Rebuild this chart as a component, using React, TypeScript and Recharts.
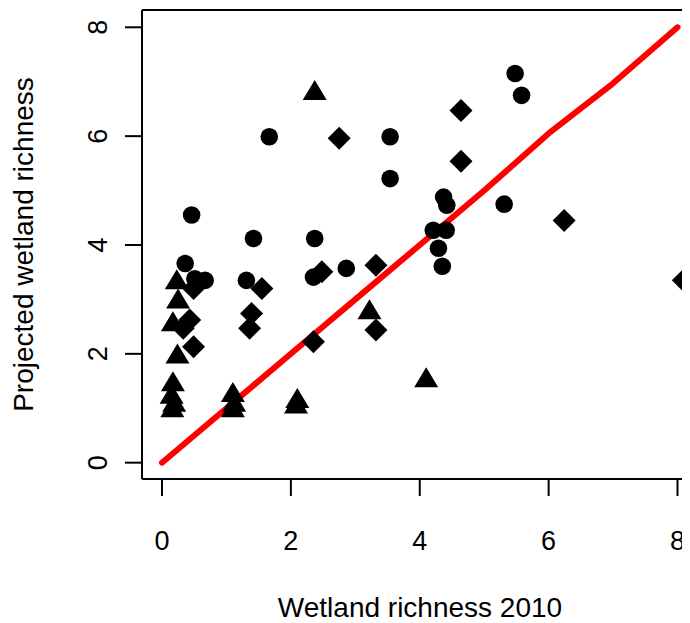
import React from 'react';
import { ComposedChart, Scatter, XAxis, YAxis, ReferenceLine } from 'recharts';

// Series
const circleX = [0.46, 0.36, 0.51, 0.67, 1.42, 1.31, 2.37, 2.35, 2.86, 1.665, 3.54, 3.54, 5.48, 5.58, 4.37, 4.42, 5.31, 4.21, 4.41, 4.29, 4.35];
const circleY = [4.55, 3.66, 3.38, 3.35, 4.12, 3.35, 4.12, 3.41, 3.57, 5.99, 5.99, 5.22, 7.15, 6.75, 4.88, 4.73, 4.75, 4.27, 4.27, 3.94, 3.61];

const diamondX = [0.49, 0.43, 0.33, 0.49, 1.55, 1.39, 1.36, 2.48, 2.35, 2.75, 4.64, 4.64, 6.24, 3.32, 3.32, 8.09];
const diamondY = [3.2, 2.62, 2.47, 2.13, 3.2, 2.74, 2.47, 3.51, 2.22, 5.96, 6.47, 5.54, 4.45, 3.63, 2.44, 3.35];

const triangleX = [0.23, 0.25, 0.17, 0.24, 0.17, 0.15, 0.19, 0.16, 1.1, 1.12, 1.1, 2.1, 2.08, 2.37, 3.22, 4.1];
const triangleY = [3.35, 3.0, 2.58, 1.99, 1.48, 1.25, 1.1, 1.0, 1.28, 1.1, 1.0, 1.17, 1.07, 6.83, 2.8, 1.55];

const lineX = [0, 1, 2, 3, 4, 5, 6, 7, 8];
const lineY = [0, 1, 2, 3, 4, 5, 6.05, 6.97, 8];

const xTicks = [0, 2, 4, 6, 8];
const yTicks = [0, 2, 4, 6, 8];

const xLabel = 'Wetland richness 2010';
const yLabel = 'Projected wetland richness';

const zip = (xs: number[], ys: number[]) => xs.map((x, i) => ({ x, y: ys[i] }));
const circles = zip(circleX, circleY);
const diamonds = zip(diamondX, diamondY);
const triangles = zip(triangleX, triangleY);
const lineData = zip(lineX, lineY);

const FONT = '"Liberation Sans", Arial, Helvetica, sans-serif';

const CircleShape = (p: any) => <circle cx={p.cx} cy={p.cy} r={8.8} fill="#000" />;
const DiamondShape = (p: any) => {
  const r = 11.5;
  return (
    <polygon
      points={`${p.cx},${p.cy - r} ${p.cx + r},${p.cy} ${p.cx},${p.cy + r} ${p.cx - r},${p.cy}`}
      fill="#000"
    />
  );
};
const TriangleShape = (p: any) => (
  <polygon
    points={`${p.cx},${p.cy - 11} ${p.cx + 12},${p.cy + 9} ${p.cx - 12},${p.cy + 9}`}
    fill="#000"
  />
);
const NoShape = () => <g />;

const XTick = (p: any) => (
  <text x={p.x} y={p.y + 54} textAnchor="middle" fontSize={27} fontFamily={FONT} fill="#000">
    {p.payload.value}
  </text>
);
const YTick = (p: any) => (
  <text
    transform={`translate(${p.x - 18},${p.y}) rotate(-90)`}
    textAnchor="middle"
    fontSize={27}
    fontFamily={FONT}
    fill="#000"
  >
    {p.payload.value}
  </text>
);

const XTitle = () => (
  <text x={412} y={608.5} textAnchor="middle" fontSize={28} fontFamily={FONT} fill="#000">
    {xLabel}
  </text>
);
const YTitle = () => (
  <text
    transform={`translate(25,236.5) rotate(-90)`}
    textAnchor="middle"
    fontSize={28}
    fontFamily={FONT}
    fill="#000"
  >
    {yLabel}
  </text>
);

export default function App() {
  return (
    <div style={{ width: 682, height: 615, overflow: 'hidden', background: '#fff' }}>
      <ComposedChart
        width={720}
        height={615}
        margin={{ top: 2, right: 24.7, left: 0, bottom: 0 }}
        style={{ background: '#fff' }}
      >
        <XAxis
          type="number"
          dataKey="x"
          domain={[-0.31, 8.4]}
          allowDataOverflow
          ticks={xTicks}
          interval={0}
          height={144}
          tickSize={17}
          tickMargin={0}
          axisLine={{ stroke: '#000', strokeWidth: 2 }}
          tickLine={{ stroke: '#000', strokeWidth: 2 }}
          tick={<XTick />}
          label={{ content: <XTitle /> }}
        />
        <YAxis
          type="number"
          dataKey="y"
          domain={[-0.3, 8.318]}
          allowDataOverflow
          ticks={yTicks}
          interval={0}
          width={134}
          tickSize={17}
          tickMargin={0}
          axisLine={{ stroke: '#000', strokeWidth: 2 }}
          tickLine={{ stroke: '#000', strokeWidth: 2 }}
          tick={<YTick />}
          label={{ content: <YTitle /> }}
        />
        <ReferenceLine y={8.318} stroke="#000" strokeWidth={2} ifOverflow="visible" />
        <Scatter
          data={lineData}
          line={{ stroke: '#FF0000', strokeWidth: 6, strokeLinecap: 'round', strokeLinejoin: 'round' }}
          shape={<NoShape />}
          isAnimationActive={false}
        />
        <Scatter data={circles} shape={<CircleShape />} isAnimationActive={false} />
        <Scatter data={diamonds} shape={<DiamondShape />} isAnimationActive={false} />
        <Scatter data={triangles} shape={<TriangleShape />} isAnimationActive={false} />
      </ComposedChart>
    </div>
  );
}
